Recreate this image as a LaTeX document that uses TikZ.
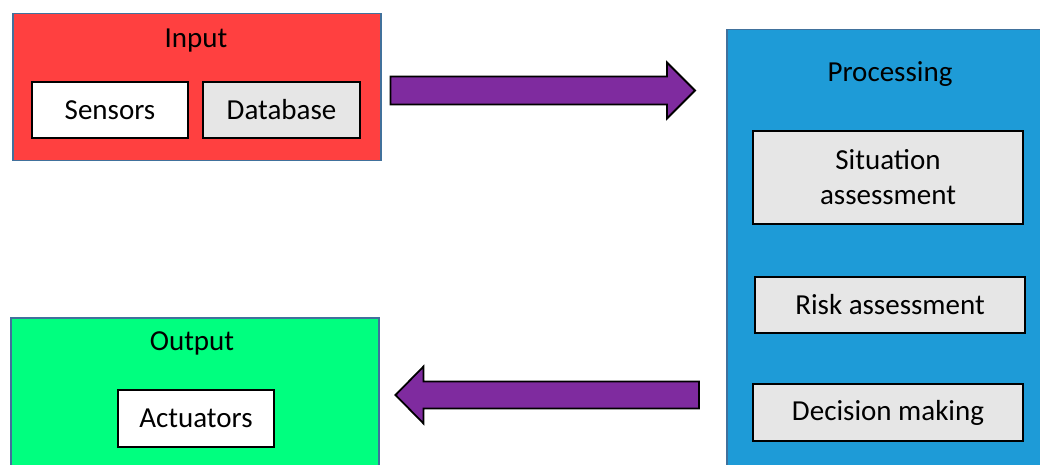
\documentclass[tikz,border=0pt]{standalone}
\usepackage{fontspec}
\setmainfont{Carlito}
\usetikzlibrary{calc}

\definecolor{inred}{HTML}{FF4040}
\definecolor{procblue}{HTML}{1E9BD7}
\definecolor{outgreen}{HTML}{00FF7F}
\definecolor{boxgray}{HTML}{E6E6E6}
\definecolor{arrowpurple}{HTML}{7F2B9F}
\definecolor{frameblue}{HTML}{41719C}

\tikzset{
  group/.style={draw=frameblue, line width=1.5pt, anchor=north west, inner sep=0pt},
  title/.style={anchor=base, inner sep=0pt, font=\fontsize{29}{35}\selectfont},
  item/.style={draw=black, line width=1.8pt, fill=boxgray, inner sep=0pt,
               align=center, font=\fontsize{29}{35}\selectfont},
  blockarrow/.style={draw=black, line width=1.8pt, fill=arrowpurple, line join=miter}
}

\begin{document}
\begin{tikzpicture}[x=1pt, y=-1pt]
  \useasboundingbox (0,0) rectangle (1040,465);
  \clip (0,0) rectangle (1040,465);

  % input group
  \node[group, fill=inred, minimum width=368pt, minimum height=147pt] (input) at (12,13) {};
  \node[title] (inputtitle) at (196,48) {Input};
  \node[item, fill=white, minimum width=156pt, minimum height=56pt] (sensors) at (110,110) {Sensors};
  \node[item, minimum width=157pt, minimum height=56pt] (database) at (281.5,110) {Database};

  % processing group
  \node[group, fill=procblue, minimum width=330pt, minimum height=450pt] (processing) at (726,29) {};
  \node[title] (proctitle) at (890,82) {Processing};
  \node[item, minimum width=270pt, minimum height=93pt] (situation) at (888,177.5) {Situation\\assessment};
  \node[item, minimum width=270pt, minimum height=56pt] (risk) at (890,305) {Risk assessment};
  \node[item, minimum width=270pt, minimum height=57pt] (decision) at (888,412.5) {Decision making};

  % output group
  \node[group, fill=outgreen, minimum width=368pt, minimum height=160pt] (output) at (10,317) {};
  \node[title] (outtitle) at (192,350) {Output};
  \node[item, fill=white, minimum width=156pt, minimum height=57pt] (actuators) at (196,418.5) {Actuators};

  % block arrows between the groups
  \coordinate (r0) at ($(input.east |- 0,90.5)+(9,0)$);
  \coordinate (r1) at ($(processing.west |- 0,90.5)+(-31,0)$);
  \draw[blockarrow] ($(r0)+(0,-14)$) -- ($(r1)+(-28,-14)$) -- ($(r1)+(-28,-28)$)
    -- (r1) -- ($(r1)+(-28,28)$) -- ($(r1)+(-28,14)$) -- ($(r0)+(0,14)$) -- cycle;

  \coordinate (l0) at ($(processing.west |- 0,395)+(-27,0)$);
  \coordinate (l1) at ($(output.east |- 0,395)+(16,0)$);
  \draw[blockarrow] ($(l0)+(0,-13.5)$) -- ($(l1)+(28,-13.5)$) -- ($(l1)+(28,-28.5)$)
    -- (l1) -- ($(l1)+(28,28.5)$) -- ($(l1)+(28,13.5)$) -- ($(l0)+(0,13.5)$) -- cycle;
\end{tikzpicture}
\end{document}
